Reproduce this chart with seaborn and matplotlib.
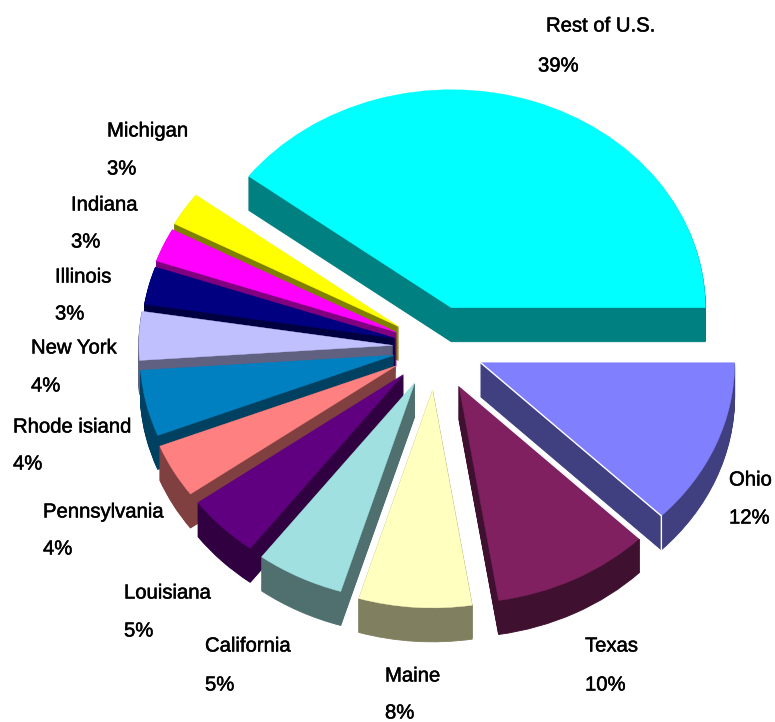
import numpy as np
import matplotlib
matplotlib.use("Agg")
import matplotlib.pyplot as plt
import matplotlib.patheffects as pe
import seaborn as sns

states = ["Rest of U.S.", "Michigan", "Indiana", "Illinois", "New York", "Rhode isiand",
          "Pennsylvania", "Louisiana", "California", "Maine", "Texas", "Ohio"]
# printed percentages
share_labels = [39, 3, 3, 3, 4, 4, 4, 5, 5, 8, 10, 12]
slice_shares = [39.7, 2.5, 2.5, 2.8, 3.6, 4.9, 4.0, 4.7, 5.6, 7.2, 10.1, 12.4]
top_colors = ["#00FFFF", "#FFFF00", "#FF00FF", "#000080", "#C0C0FF", "#0080C0",
              "#FF8080", "#600080", "#A0E0E0", "#FFFFC0", "#802060", "#8080FF"]
side_colors = ["#008080", "#808000", "#800080", "#000040", "#606080", "#004060",
               "#804040", "#300040", "#507070", "#808060", "#401030", "#404080"]
explode = [0.19, 0.175, 0.17, 0.165, 0.17, 0.17, 0.18, 0.18, 0.185, 0.197, 0.197, 0.19]
draw_rank = [0, 1, 2, 3, 4, 5, 6, 7, 8, 11, 10, 9]

# pixel layout
W, H = 775, 722
cx, cy, rx, ry = 436, 347, 254, 218
depth_px = 34
label_px = [(546, 26, 538, 66), (107, 131, 107, 169), (71, 205, 71, 242), (55, 277, 55, 314),
            (31, 348, 31, 386), (13, 427, 13, 464), (43, 512, 43, 549), (124, 593, 124, 631),
            (205, 646, 205, 685), (385, 676, 385, 713), (585, 646, 585, 685), (729, 480, 729, 518)]

sns.set_theme(style="white")
plt.rcParams["font.family"] = ["Liberation Sans", "DejaVu Sans"]

fig = plt.figure(figsize=(W / 100, H / 100), dpi=100, facecolor="white")
ax = fig.add_axes([0, 0, 1, 1])

for k in range(depth_px, 0, -1):
    wedges, _ = ax.pie(slice_shares, explode=explode, colors=side_colors, startangle=0,
                       counterclock=True, center=(0, -k / ry), radius=1)
    for w, r, c in zip(wedges, draw_rank, side_colors):
        w.set_zorder(r + 1)
        w.set_edgecolor(c)
        w.set_linewidth(0.6)

wedges, _ = ax.pie(slice_shares, explode=explode, colors=top_colors, startangle=0,
                   counterclock=True)
for w, r, c in zip(wedges, draw_rank, top_colors):
    w.set_zorder(r + 1.5)
    w.set_edgecolor(c)
    w.set_linewidth(0.3)

# thin white highlights on the Ohio and Texas cut faces
ohio = wedges[states.index("Ohio")]
texas = wedges[states.index("Texas")]
t = np.deg2rad(ohio.theta1)
ox, oy = ohio.center
ax.plot([ox, ox + np.cos(t), ox + np.cos(t)], [oy, oy + np.sin(t), oy + np.sin(t) - depth_px / ry],
        color="white", lw=1, zorder=20)
t = np.deg2rad(texas.theta2)
tx, ty = texas.center
ax.plot([tx, tx + np.cos(t)], [ty, ty + np.sin(t)], color="white", lw=1, zorder=20)

ax.set_aspect("auto")
ax.set_xlim(-cx / rx, (W - cx) / rx)
ax.set_ylim((cy - H) / ry, cy / ry)
ax.axis("off")

stroke = [pe.withStroke(linewidth=0.35, foreground="black")]
for name, share, (x1, y1, x2, y2) in zip(states, share_labels, label_px):
    ax.text(x1 / W, 1 - y1 / H, name, transform=ax.transAxes, fontsize=14.6, color="black",
            ha="left", va="center", zorder=30, path_effects=stroke)
    ax.text(x2 / W, 1 - y2 / H, f"{share}%", transform=ax.transAxes, fontsize=14.6, color="black",
            ha="left", va="center", zorder=30, path_effects=stroke)

fig.savefig("out.png", dpi=100, facecolor="white")
